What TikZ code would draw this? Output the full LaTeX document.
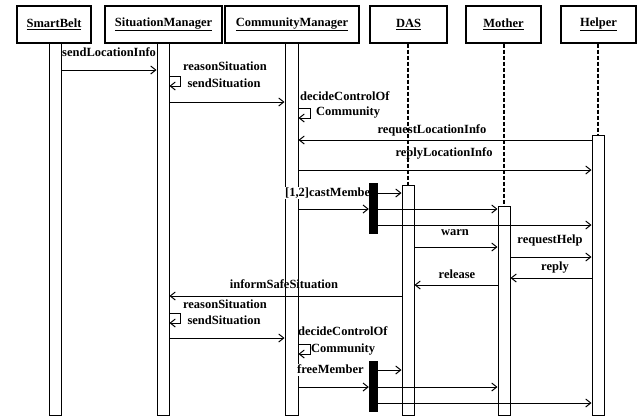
\documentclass[tikz,border=0pt]{standalone}
\usepackage{fontspec}
\setmainfont{Liberation Serif}
\usetikzlibrary{arrows.meta}
\tikzset{
  hdr/.style={draw, line width=1.2pt, minimum height=37pt, inner sep=0pt, font=\bfseries\fontsize{12.5}{13}\selectfont},
  act/.style={draw, line width=1pt, fill=white, minimum width=12pt, inner sep=0pt, anchor=north},
  bar/.style={fill=black, minimum width=9pt, inner sep=0pt, anchor=north},
  life/.style={line width=1.2pt, dash pattern=on 4pt off 2pt},
  msg/.style={line width=1pt, -{Straight Barb[length=5pt,width=8pt]}},
  lbl/.style={inner sep=0pt, text height=9pt, text depth=3pt, font=\bfseries\fontsize{12.5}{13}\selectfont},
}
\begin{document}
\begin{tikzpicture}[x=1pt,y=-1pt]
\useasboundingbox (0,0) rectangle (637,416);
% headers
\node[hdr, minimum width=74pt] (sbH) at (54,24.5) {\underline{SmartBelt}};
\node[hdr, minimum width=117pt] (smH) at (163.5,24.5) {\underline{SituationManager}};
\node[hdr, minimum width=134pt] (cmH) at (292,24.5) {\underline{CommunityManager}};
\node[hdr, minimum width=77pt] (dasH) at (408.5,24.5) {\underline{DAS}};
\node[hdr, minimum width=75pt] (moH) at (503.5,24.5) {\underline{Mother}};
\node[hdr, minimum width=75pt] (heH) at (598.5,24.5) {\underline{Helper}};
% activations
\node[act, minimum height=372pt] (sbA) at (55,43) {};
\node[act, minimum height=372pt] (smA) at (163,43) {};
\node[act, minimum height=372pt, minimum width=13pt] (cmA) at (291.5,43) {};
\node[act, minimum height=230pt] (dasA) at (408,185) {};
\node[act, minimum height=209pt] (moA) at (504,206) {};
\node[act, minimum height=280pt] (heA) at (598,135) {};
% dashed lifelines
\draw[life] (dasH.south -| dasA.north) -- (dasA.north);
\draw[life] (moH.south -| moA.north) -- (moA.north);
\draw[life] (heH.south -| heA.north) -- (heA.north);
% 1 sendLocationInfo
\node[lbl, anchor=west] (l1) at (62,53) {sendLocationInfo};
\draw[msg] (sbA.east |- 0,70) -- (smA.west |- 0,70);
% 2 reason/send situation
\node[lbl] (l2a) at (225,67) {reasonSituation};
\node[lbl] (l2b) at (224,84) {sendSituation};
\draw[msg] (smA.east |- 0,76) -- ++(11,0) -- ++(0,10) -- (smA.east |- 0,86);
\draw[msg] (smA.east |- 0,102) -- (cmA.west |- 0,102);
% 3 decideControlOf Community
\node[lbl, anchor=west] (l3a) at (300,97) {decideControlOf};
\node[lbl, anchor=west] (l3b) at (316,112) {Community};
\draw[msg] (cmA.east |- 0,108) -- ++(12,0) -- ++(0,10) -- (cmA.east |- 0,118);
% 4 requestLocationInfo
\node[lbl] (l4) at (432,130) {requestLocationInfo};
\draw[msg] (heA.west |- 0,140) -- (cmA.east |- 0,140);
% 5 replyLocationInfo
\node[lbl] (l5) at (444,153) {replyLocationInfo};
\draw[msg] (cmA.east |- 0,170) -- (heA.west |- 0,170);
% 6 castMember
\node[lbl, anchor=west, fill=white] (l6) at (285,193) {[1,2]castMember};
\node[bar, minimum height=51pt] (cb) at (373.5,183) {};
\draw[msg] (cb.east |- 0,193) -- (dasA.west |- 0,193);
\draw[msg] (cmA.east |- 0,209) -- (cb.west |- 0,209);
\draw[msg] (cb.east |- 0,209) -- (moA.west |- 0,209);
\draw[msg] (cb.east |- 0,225) -- (heA.west |- 0,225);
% 7 warn
\node[lbl] (l7) at (455,232) {warn};
\draw[msg] (dasA.east |- 0,247) -- (moA.west |- 0,247);
% 8 requestHelp
\node[lbl] (l8) at (550,240) {requestHelp};
\draw[msg] (moA.east |- 0,257) -- (heA.west |- 0,257);
% 9 reply
\node[lbl] (l9) at (555,267) {reply};
\draw[msg] (heA.west |- 0,278) -- (moA.east |- 0,278);
% 10 release
\node[lbl] (l10) at (457,275) {release};
\draw[msg] (moA.west |- 0,285) -- (dasA.east |- 0,285);
% 11 informSafeSituation
\node[lbl] (l11) at (284,285) {informSafeSituation};
\draw[msg] (dasA.west |- 0,296) -- (smA.east |- 0,296);
% 12 reason/send situation
\node[lbl] (l12a) at (225,305) {reasonSituation};
\node[lbl] (l12b) at (224,321) {sendSituation};
\draw[msg] (smA.east |- 0,313) -- ++(11,0) -- ++(0,10) -- (smA.east |- 0,323);
\draw[msg] (smA.east |- 0,338) -- (cmA.west |- 0,338);
% 13 decideControlOf Community
\node[lbl, anchor=west] (l13a) at (298,332) {decideControlOf};
\node[lbl, anchor=west] (l13b) at (311,349) {Community};
\draw[msg] (cmA.east |- 0,344) -- ++(12,0) -- ++(0,10) -- (cmA.east |- 0,354);
% 14 freeMember
\node[lbl, anchor=west, fill=white] (l14) at (297,370) {freeMember};
\node[bar, minimum height=51pt] (fb) at (373.5,361) {};
\draw[msg] (fb.east |- 0,370) -- (dasA.west |- 0,370);
\draw[msg] (cmA.east |- 0,387) -- (fb.west |- 0,387);
\draw[msg] (fb.east |- 0,387) -- (moA.west |- 0,387);
\draw[msg] (fb.east |- 0,403) -- (heA.west |- 0,403);
\end{tikzpicture}
\end{document}
